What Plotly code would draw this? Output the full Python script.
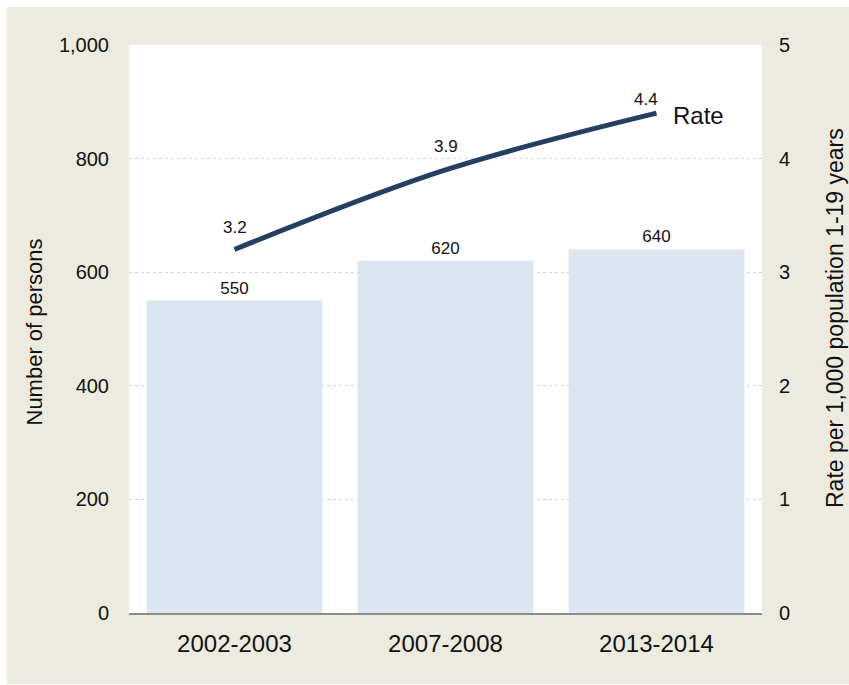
import plotly.graph_objects as go

categories = ["2002-2003", "2007-2008", "2013-2014"]
persons = [550, 620, 640]
rates = [3.2, 3.9, 4.4]
left_ticks = [0, 200, 400, 600, 800, 1000]
right_ticks = [0, 1, 2, 3, 4, 5]

W, H = 849, 685
L, R, T, B = 129, 87, 45, 72
pw, ph = W - L - R, H - T - B

def px_x(p):
    return (p - L) / pw

def px_y(p):
    return (H - B - p) / ph

FONT = "Liberation Sans, Arial, sans-serif"

fig = go.Figure()
fig.add_trace(go.Bar(
    x=categories, y=persons, marker=dict(color="#DCE6F1", line=dict(width=0)),
    text=[str(v) for v in persons], textposition="outside",
    textfont=dict(family=FONT, size=17, color="#111"), cliponaxis=False,
    showlegend=False, hoverinfo="skip"))
fig.add_trace(go.Scatter(
    x=categories, y=rates, yaxis="y2", mode="lines",
    line=dict(color="#243F60", width=5, shape="spline", smoothing=1.0),
    showlegend=False, hoverinfo="skip"))

# rate value labels
offsets = [(0, 22), (0, 23), (-11, 14)]
for c, r, (dx, dy) in zip(categories, rates, offsets):
    fig.add_annotation(x=c, y=r, yref="y2", text=f"{r:.1f}", showarrow=False,
                       xshift=dx, yshift=dy,
                       font=dict(family=FONT, size=17, color="#111"))
fig.add_annotation(x=categories[-1], y=rates[-1], yref="y2", text="Rate",
                   showarrow=False, xanchor="left", xshift=14, yshift=-2,
                   font=dict(family=FONT, size=24, color="#111"))

# axis titles
fig.add_annotation(xref="paper", yref="paper", x=px_x(20), y=px_y(332),
                   text="Number of persons", textangle=-90, showarrow=False,
                   font=dict(family=FONT, size=22, color="#111"))
fig.add_annotation(xref="paper", yref="paper", x=px_x(850), y=px_y(318),
                   text="Rate per 1,000 population 1-19 years", textangle=-90,
                   showarrow=False, font=dict(family=FONT, size=23, color="#111"))

# beige panel
fig.add_shape(type="rect", xref="paper", yref="paper", layer="below",
              x0=px_x(7), x1=px_x(W + 5), y0=px_y(684), y1=px_y(7),
              fillcolor="#EDEBE0", line=dict(width=0))
fig.add_shape(type="rect", xref="paper", yref="paper", layer="below",
              x0=0, x1=1, y0=0, y1=1, fillcolor="white", line=dict(width=0))

fig.update_layout(
    width=W, height=H, margin=dict(l=L, r=R, t=T, b=B, pad=0),
    paper_bgcolor="white", plot_bgcolor="rgba(0,0,0,0)",
    bargap=0.167,
    font=dict(family=FONT, size=20, color="#111"),
    xaxis=dict(showline=True, linecolor="#8C8C8C", linewidth=2, ticks="",
               showgrid=False, tickfont=dict(size=24), ticklabelstandoff=8),
    yaxis=dict(range=[0, 1000], tickvals=left_ticks, tickformat=",",
               showgrid=True, gridcolor="#C9D5EA", griddash="dot", gridwidth=1,
               zeroline=False, showline=False, ticks="", ticklabelstandoff=19,
               tickfont=dict(size=20)),
    yaxis2=dict(range=[0, 5], tickvals=right_ticks, overlaying="y", side="right",
                showgrid=False, zeroline=False, showline=False, ticks="",
                ticklabelstandoff=16, tickfont=dict(size=20)),
)

fig.write_html("out.html")
